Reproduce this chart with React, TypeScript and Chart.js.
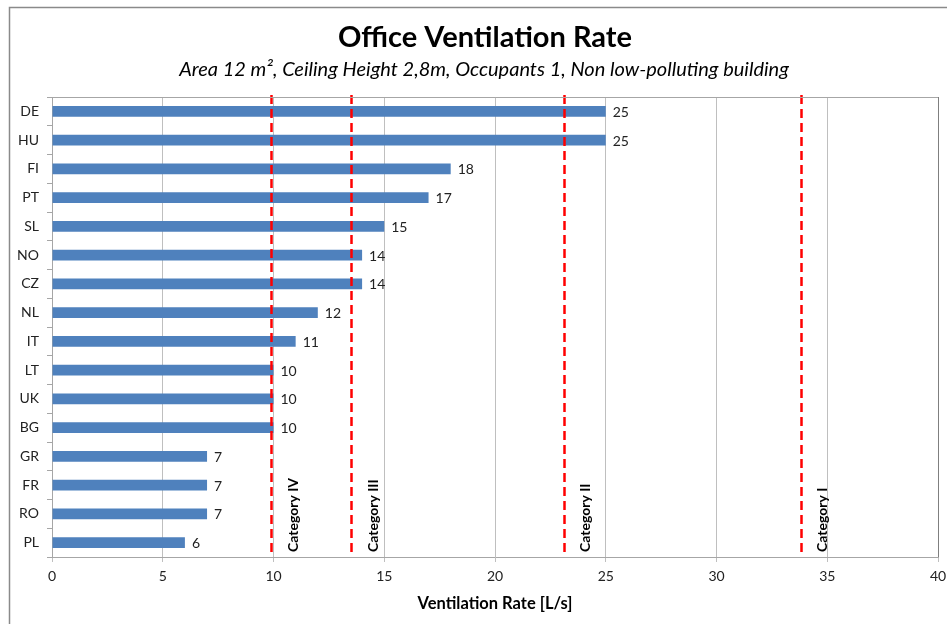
import React, { useEffect, useRef } from "react";
import { Chart, registerables } from "chart.js";

Chart.register(...registerables);

const countries = ["DE", "HU", "FI", "PT", "SL", "NO", "CZ", "NL", "IT", "LT", "UK", "BG", "GR", "FR", "RO", "PL"];
const rates = [25, 25, 18, 17, 15, 14, 14, 12, 11, 10, 10, 10, 7, 7, 7, 6];
const xMin = 0;
const xMax = 40;
const xStep = 5;
const categoryLimits = [9.9, 13.5, 23.1, 33.8];
const categoryNames = ["Category IV", "Category III", "Category II", "Category I"];
const chartTitle = "Office Ventilation Rate";
const chartSubtitle = "Area 12 m², Ceiling Height 2,8m, Occupants 1, Non low-polluting building";
const xAxisTitle = "Ventilation Rate [L/s]";

const FONT = "Lato, 'Open Sans', sans-serif";

export default function App() {
  const ref = useRef<HTMLCanvasElement | null>(null);

  useEffect(() => {
    if (!ref.current) return;
    const overlay = {
      id: "overlay",
      afterDatasetsDraw(chart: any) {
        const ctx = chart.ctx;
        const x = chart.scales.x;
        const y = chart.scales.y;
        const area = chart.chartArea;
        // data labels
        ctx.save();
        ctx.font = `14px ${FONT}`;
        ctx.fillStyle = "#222";
        ctx.textAlign = "left";
        ctx.textBaseline = "middle";
        rates.forEach((v, i) => {
          ctx.fillText(String(v), x.getPixelForValue(v) + 7, y.getPixelForValue(i) + 1);
        });
        ctx.restore();
        // category lines
        ctx.save();
        ctx.strokeStyle = "#ff0000";
        ctx.lineWidth = 2.5;
        ctx.setLineDash([9, 5]);
        categoryLimits.forEach((v) => {
          const px = Math.round(x.getPixelForValue(v)) + 0.5;
          ctx.beginPath();
          ctx.moveTo(px, area.top - 2);
          ctx.lineTo(px, area.bottom);
          ctx.stroke();
        });
        ctx.restore();
      },
      afterDraw(chart: any) {
        const ctx = chart.ctx;
        const x = chart.scales.x;
        const area = chart.chartArea;
        const w = chart.width;
        ctx.save();
        // outer frame
        ctx.strokeStyle = "#8a8a8a";
        ctx.lineWidth = 1.5;
        ctx.beginPath();
        ctx.moveTo(9.5, chart.height + 5);
        ctx.lineTo(9.5, 7.5);
        ctx.lineTo(w + 5, 7.5);
        ctx.stroke();
        // plot border top/right
        ctx.strokeStyle = "#a6a6a6";
        ctx.lineWidth = 1;
        ctx.beginPath();
        ctx.moveTo(area.left, area.top + 0.5);
        ctx.lineTo(area.right + 0.5, area.top + 0.5);
        ctx.stroke();
        ctx.strokeStyle = "#7f7f7f";
        ctx.beginPath();
        ctx.moveTo(area.right + 0.5, area.top);
        ctx.lineTo(area.right + 0.5, area.bottom);
        ctx.stroke();
        // titles
        ctx.fillStyle = "#000";
        ctx.textAlign = "center";
        ctx.textBaseline = "middle";
        ctx.font = `bold 29px ${FONT}`;
        ctx.fillText(chartTitle, 485, 38);
        ctx.font = `italic 20px ${FONT}`;
        ctx.fillText(chartSubtitle, 484, 70);
        ctx.font = `bold 16.5px ${FONT}`;
        ctx.fillText(xAxisTitle, 495, 604);
        // category labels
        ctx.font = `bold 14px ${FONT}`;
        ctx.textAlign = "left";
        categoryLimits.forEach((v, i) => {
          const px = x.getPixelForValue(v) + 22;
          ctx.save();
          ctx.translate(px, area.bottom - 5);
          ctx.rotate(-Math.PI / 2);
          ctx.fillText(categoryNames[i], 0, 0);
          ctx.restore();
        });
        ctx.restore();
      },
    };

    const chart = new Chart(ref.current, {
      type: "bar",
      data: {
        labels: countries,
        datasets: [
          {
            data: rates,
            backgroundColor: "#4f81bd",
            borderWidth: 0,
            barPercentage: 0.38,
            categoryPercentage: 1,
          },
        ],
      },
      options: {
        indexAxis: "y",
        responsive: false,
        animation: false,
        devicePixelRatio: 1,
        layout: { padding: { top: 97, right: 9, left: 0, bottom: 0 } },
        plugins: {
          legend: { display: false },
          title: { display: false },
          tooltip: { enabled: false },
        },
        scales: {
          x: {
            type: "linear",
            min: xMin,
            max: xMax,
            ticks: {
              stepSize: xStep,
              font: { family: FONT, size: 14 },
              color: "#222",
              padding: 6,
            },
            grid: { color: "#bfbfbf", tickLength: 5, tickColor: "#bfbfbf" },
            border: { color: "#a6a6a6" },
            afterFit: (s: any) => {
              s.height = 67;
              s.paddingLeft = 0;
              s.paddingRight = 0;
            },
          },
          y: {
            type: "category",
            ticks: {
              font: { family: FONT, size: 14 },
              color: "#222",
              padding: 8,
            },
            grid: {
              drawOnChartArea: false,
              tickLength: 5,
              tickColor: "#a6a6a6",
              offset: true,
            },
            border: { color: "#a6a6a6" },
            afterFit: (s: any) => {
              s.width = 52;
              s.paddingTop = 0;
              s.paddingBottom = 0;
            },
          },
        },
      },
      plugins: [overlay],
    } as any);
    return () => chart.destroy();
  }, []);

  return (
    <div style={{ position: "absolute", left: 0, top: 0, width: 947, height: 624, background: "#fff" }}>
      <canvas ref={ref} width={947} height={624} style={{ width: 947, height: 624 }} />
    </div>
  );
}
